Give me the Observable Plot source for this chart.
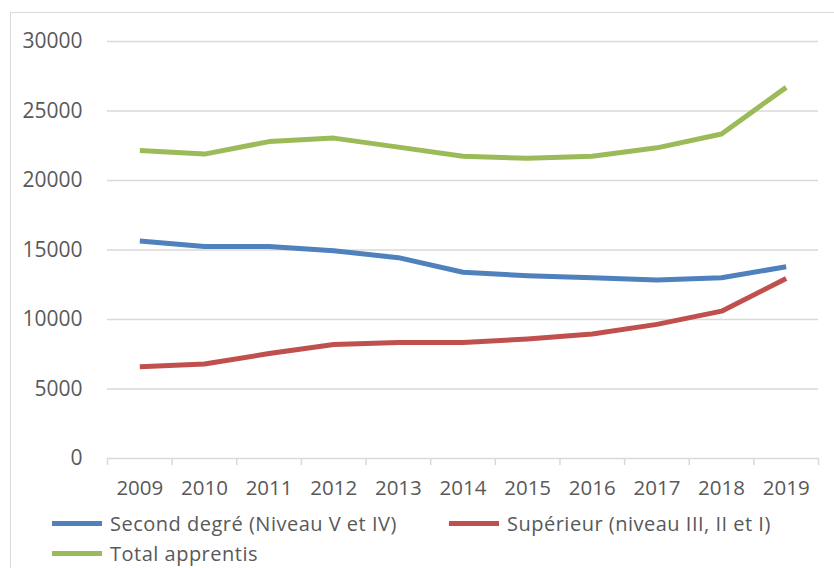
<!DOCTYPE html>
<html>
<head>
<meta charset="utf-8">
<script src="https://cdn.jsdelivr.net/npm/d3@7"></script>
<script src="https://cdn.jsdelivr.net/npm/@observablehq/plot@0.6"></script>
<style>
  html, body { margin: 0; padding: 0; background: #fff; width: 834px; height: 568px; overflow: hidden; }
  body { position: relative; font-family: "Open Sans", sans-serif; }
  #frame { position: absolute; left: 10px; top: 12px; width: 900px; height: 700px; border: 1px solid #d9d9d9; box-sizing: border-box; }
  #chart { position: absolute; left: 0; top: 0; }
  #legend { position: absolute; left: 52px; top: 508px; width: 794px; display: flex; flex-wrap: wrap; }
  .item { width: 397px; height: 30px; display: flex; align-items: center; font-size: 20px; letter-spacing: 0.5px; color: #595959; white-space: nowrap; }
  .sw { width: 50px; height: 5px; margin-right: 8px; flex: none; }
</style>
</head>
<body>
<div id="frame"></div>
<div id="chart"></div>
<div id="legend"></div>
<script>
const years = [2009, 2010, 2011, 2012, 2013, 2014, 2015, 2016, 2017, 2018, 2019];
const secondDegre = [15650, 15250, 15250, 14950, 14450, 13400, 13150, 13000, 12850, 13000, 13800];
const superieur = [6600, 6800, 7550, 8200, 8350, 8350, 8600, 8950, 9650, 10600, 12950];
const totalApprentis = [22150, 21900, 22800, 23050, 22400, 21750, 21600, 21750, 22350, 23350, 26700];
const seriesNames = ["Second degré (Niveau V et IV)", "Supérieur (niveau III, II et I)", "Total apprentis"];
const seriesColors = ["#4f81bd", "#c0504d", "#9bbb59"];
const yTicks = [0, 5000, 10000, 15000, 20000, 25000, 30000];

const seriesValues = [secondDegre, superieur, totalApprentis];
const data = [];
seriesNames.forEach((name, i) => {
  years.forEach((yr, j) => data.push({ series: name, year: yr, value: seriesValues[i][j] }));
});
const boundaries = [years[0] - 0.5, ...years.map(y => y + 0.5)];

const chart = Plot.plot({
  width: 834,
  height: 505,
  marginLeft: 107,
  marginRight: 16,
  marginTop: 41,
  marginBottom: 47,
  style: { fontFamily: "'Open Sans', sans-serif", fontSize: "20px", color: "#595959", background: "transparent" },
  x: { type: "linear", domain: [years[0] - 0.5, years[years.length - 1] + 0.5] },
  y: { domain: [0, 30000] },
  color: { domain: seriesNames, range: seriesColors },
  marks: [
    Plot.ruleY(yTicks, { stroke: "#d9d9d9", strokeWidth: 1.5 }),
    Plot.axisY({ ticks: yTicks, tickSize: 0, tickPadding: 25, tickFormat: d => String(d), fill: "#595959", fontSize: 21, label: null }),
    Plot.axisX({ ticks: boundaries, tickSize: 7, tickFormat: () => "", stroke: "#d9d9d9", strokeWidth: 1.5, strokeOpacity: 1, label: null }),
    Plot.axisX({ ticks: years, tickSize: 0, tickPadding: 22, tickFormat: d => String(d), fill: "#595959", fontSize: 20.5, label: null }),
    Plot.lineY(data, { x: "year", y: "value", z: "series", stroke: "series", strokeWidth: 5, strokeLinejoin: "round", strokeLinecap: "butt" })
  ]
});
document.getElementById("chart").appendChild(chart);

const legend = document.getElementById("legend");
seriesNames.forEach((name, i) => {
  const it = document.createElement("div");
  it.className = "item";
  const sw = document.createElement("span");
  sw.className = "sw";
  sw.style.background = seriesColors[i];
  const tx = document.createElement("span");
  tx.textContent = name;
  it.appendChild(sw);
  it.appendChild(tx);
  legend.appendChild(it);
});
</script>
</body>
</html>
